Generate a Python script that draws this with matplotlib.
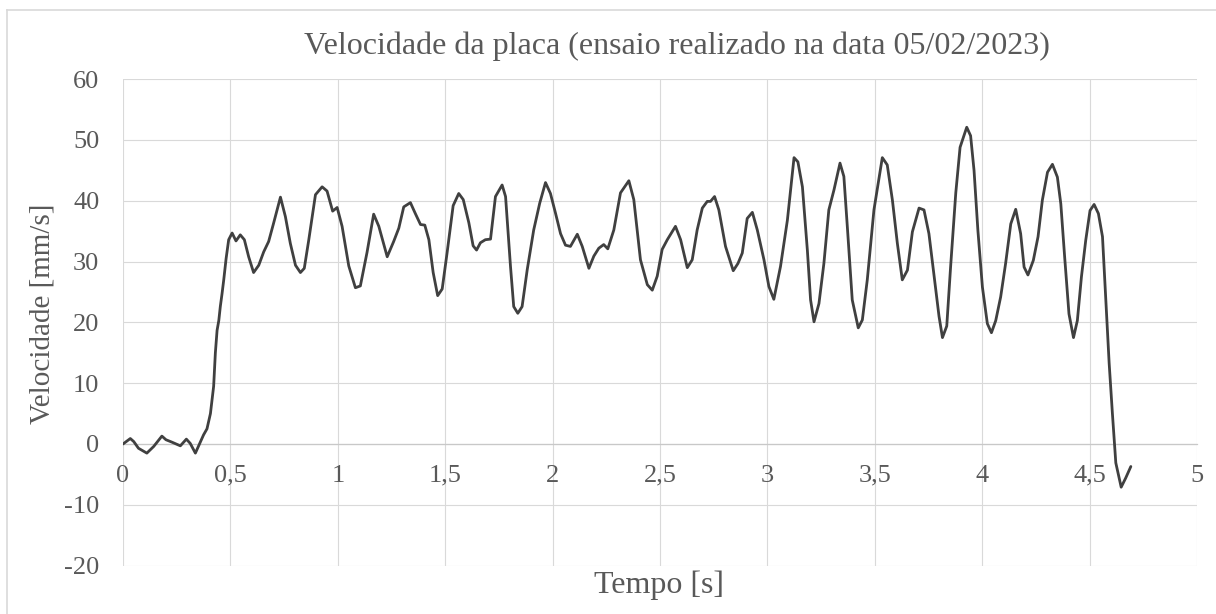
import matplotlib
matplotlib.use("Agg")
import matplotlib.pyplot as plt
from matplotlib.ticker import FuncFormatter, MultipleLocator
from matplotlib.lines import Line2D

# Plate velocity test record
tempo_s = [0, 0.034, 0.05, 0.072, 0.111, 0.143, 0.181, 0.2, 0.228, 0.267, 0.295, 0.313,
           0.337, 0.375, 0.391, 0.407, 0.422, 0.430, 0.438, 0.446, 0.453, 0.461, 0.469,
           0.480, 0.492, 0.508, 0.526,
           0.546, 0.565, 0.585, 0.608, 0.632, 0.655, 0.678, 0.701, 0.733, 0.756, 0.779,
           0.803, 0.826, 0.844, 0.865, 0.896, 0.927, 0.950, 0.976, 0.997, 1.020, 1.051,
           1.082, 1.105, 1.136, 1.167, 1.191, 1.23, 1.26, 1.284, 1.307, 1.338, 1.361,
           1.385, 1.405, 1.424, 1.444, 1.465, 1.486, 1.509, 1.537, 1.563, 1.584, 1.610,
           1.630, 1.646, 1.664, 1.687, 1.711, 1.734, 1.765, 1.781, 1.804, 1.819, 1.838,
           1.858, 1.882, 1.912, 1.940, 1.967, 1.990, 2.014, 2.037, 2.060, 2.083, 2.115,
           2.138, 2.169, 2.192, 2.215, 2.238, 2.257, 2.285, 2.316, 2.355, 2.378, 2.409,
           2.441, 2.464, 2.487, 2.510, 2.534, 2.572, 2.596, 2.627, 2.650, 2.673, 2.697,
           2.720, 2.735, 2.754, 2.774, 2.805, 2.841, 2.863, 2.883, 2.906, 2.930, 2.953,
           2.984, 3.007, 3.030, 3.061, 3.093, 3.124, 3.142, 3.163, 3.186, 3.201, 3.217,
           3.240, 3.263, 3.286, 3.310, 3.338, 3.356, 3.372, 3.395, 3.423, 3.442, 3.465,
           3.496, 3.535, 3.558, 3.582, 3.605, 3.628, 3.652, 3.675, 3.706, 3.729, 3.752,
           3.776, 3.799, 3.815, 3.835, 3.853, 3.877, 3.897, 3.928, 3.946, 3.962, 3.980,
           4.001, 4.024, 4.043, 4.063, 4.086, 4.109, 4.133, 4.156, 4.179, 4.195, 4.213,
           4.238, 4.260, 4.280, 4.304, 4.327, 4.350, 4.366, 4.384, 4.404, 4.425, 4.443,
           4.462, 4.482, 4.502, 4.521, 4.541, 4.560, 4.575, 4.591, 4.606, 4.622, 4.647,
           4.668, 4.692]

velocidade_mm_s = [0, 0.9, 0.4, -0.7, -1.5, -0.4, 1.3, 0.7, 0.3, -0.3, 0.8, 0.1,
                   -1.5, 1.5, 2.5, 5.0, 9.5, 15.0, 18.7, 20.3, 22.6, 24.7, 27.0,
                   30.5, 33.6, 34.7, 33.4,
                   34.4, 33.6, 30.8, 28.2, 29.4, 31.6, 33.3, 36.3, 40.6, 37.4, 33.0,
                   29.4, 28.2, 28.9, 33.6, 41.0, 42.3, 41.6, 38.3, 38.9, 35.8, 29.3,
                   25.7, 26.0, 31.5, 37.8, 35.8, 30.8, 33.3, 35.5, 39.0, 39.7, 37.9,
                   36.1, 36.0, 33.6, 28.2, 24.4, 25.5, 31.5, 39.2, 41.2, 40.2, 36.4,
                   32.6, 31.9, 33.1, 33.6, 33.7, 40.7, 42.6, 40.7, 29.2, 22.6, 21.5,
                   22.6, 28.7, 35.2, 39.6, 43.0, 41.2, 37.9, 34.6, 32.7, 32.5, 34.5,
                   32.5, 28.9, 30.9, 32.2, 32.8, 32.1, 35.2, 41.3, 43.3, 40.2, 30.3,
                   26.2, 25.3, 27.6, 32.0, 33.6, 35.8, 33.6, 29.0, 30.3, 35.2, 38.8,
                   39.9, 39.9, 40.7, 38.5, 32.5, 28.5, 29.7, 31.4, 37.1, 38.1, 35.2,
                   30.3, 25.9, 23.8, 29.2, 36.8, 47.1, 46.4, 42.3, 31.9, 23.7, 20.1,
                   23.1, 29.7, 38.5, 41.8, 46.2, 44.0, 35.8, 23.7, 19.1, 20.4, 27.0,
                   38.5, 47.1, 45.9, 40.1, 33.0, 27.0, 28.6, 34.9, 38.8, 38.5, 34.6,
                   27.6, 21.0, 17.5, 19.4, 29.2, 41.3, 48.8, 52.1, 50.7, 45.0, 35.1,
                   25.8, 19.8, 18.3, 20.3, 24.2, 29.7, 36.2, 38.6, 34.6, 29.1, 27.8,
                   30.2, 34.1, 40.1, 44.7, 46.0, 43.9, 39.5, 30.7, 21.4, 17.5, 20.3,
                   27.5, 33.5, 38.4, 39.4, 37.9, 34.1, 24.2, 13.3, 5.1, -3.1, -7.1,
                   -5.6, -3.7]

titulo = "Velocidade da placa (ensaio realizado na data 05/02/2023)"
rotulo_x = "Tempo [s]"
rotulo_y = "Velocidade [mm/s]"

texto = "#595959"
grade = "#d9d9d9"
plt.rcParams["font.family"] = ["Liberation Serif", "DejaVu Serif"]

W, H = 1216, 614
fig = plt.figure(figsize=(W / 100, H / 100), dpi=100)
ax = fig.add_axes([123 / W, 1 - 565.6 / H, (1197 - 123) / W, (565.6 - 79.2) / H])

ax.plot(tempo_s, velocidade_mm_s, color="#404040", lw=2.0,
        solid_joinstyle="round", solid_capstyle="round", zorder=3)

ax.set_xlim(0, 5)
ax.set_ylim(-20, 60)
ax.xaxis.set_major_locator(MultipleLocator(0.5))
ax.yaxis.set_major_locator(MultipleLocator(10))
ax.xaxis.set_major_formatter(FuncFormatter(lambda v, p: f"{v:g}".replace(".", ",")))
ax.yaxis.set_major_formatter(FuncFormatter(lambda v, p: f"{v:g}"))
ax.grid(True, color=grade, lw=0.8, zorder=0)
ax.set_axisbelow(True)

for side in ["top", "right", "left"]:
    ax.spines[side].set_visible(False)
ax.spines["bottom"].set_position(("data", 0))
ax.spines["bottom"].set_color("#c8c8c8")
ax.spines["bottom"].set_linewidth(0.9)
ax.tick_params(axis="both", length=0, labelsize=19, labelcolor=texto)
ax.tick_params(axis="x", pad=15)
ax.tick_params(axis="y", pad=17)

fig.text(677 / W, 1 - 46 / H, titulo, ha="center", va="center",
         fontsize=23, color=texto)
fig.text(659 / W, 1 - 585 / H, rotulo_x, ha="center", va="center",
         fontsize=23, color=texto)
fig.text(42 / W, 1 - 314 / H, rotulo_y, ha="center", va="center",
         rotation=90, fontsize=21, color=texto)

# chart frame
fig.add_artist(Line2D([7 / W, 7 / W], [0, 1 - 10 / H], color=grade, lw=1.2,
                      transform=fig.transFigure))
fig.add_artist(Line2D([7 / W, 1], [1 - 10 / H, 1 - 10 / H], color=grade, lw=1.2,
                      transform=fig.transFigure))

fig.savefig("out.png", dpi=100, facecolor="white")
